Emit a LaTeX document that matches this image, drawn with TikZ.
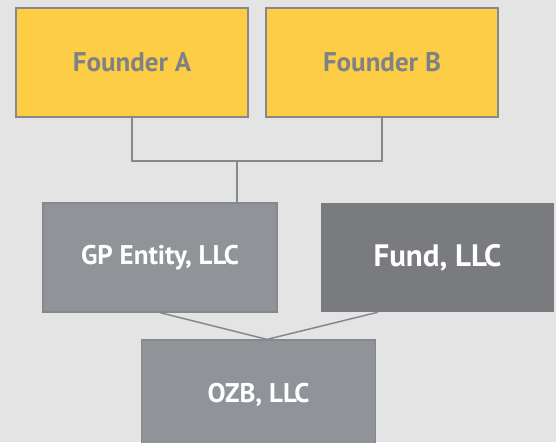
\documentclass[tikz,border=0pt]{standalone}
\usepackage{fontspec}
\setmainfont{PT Sans}
\usepackage{tikz}
\usetikzlibrary{positioning,calc}
\definecolor{bgcol}{RGB}{228,228,228}
\definecolor{yellowfill}{RGB}{253,205,69}
\definecolor{edgegrey}{RGB}{133,136,140}
\definecolor{textgrey}{RGB}{126,129,134}
\definecolor{midgrey}{RGB}{144,147,151}
\definecolor{darkgrey}{RGB}{121,123,127}

\begin{document}
\begin{tikzpicture}[
  x=1pt,y=-1pt,
  founder/.style={rectangle,draw=edgegrey,fill=yellowfill,line width=1.3pt,minimum width=232pt,minimum height=109pt,font=\fontsize{27}{32}\selectfont\bfseries,text=textgrey},
  entity/.style={rectangle,draw=edgegrey,fill=midgrey,line width=1.3pt,minimum width=234pt,minimum height=109pt,font=\fontsize{27}{32}\selectfont\bfseries,text=white},
  fundbox/.style={rectangle,fill=darkgrey,minimum width=233pt,minimum height=109pt,font=\fontsize{31}{36}\selectfont\bfseries,text=white},
  link/.style={draw=edgegrey,line width=1.5pt}
]
  % --- Background ---
  \fill[bgcol] (0,0) rectangle (556,442);
  \clip (0,0) rectangle (556,442);

  % --- Founders ---
  \node[founder] (founderA) at (132,62.5) {Founder A};
  \node[founder] (founderB) at (382,62.5) {Founder B};

  % --- Entities ---
  \node[entity]  (gp)   at (160,257.5)   {GP Entity, LLC};
  \node[fundbox] (fund) at (437.5,257.5) {Fund, LLC};
  \node[entity]  (ozb)  at (258.5,394.5) {OZB, LLC};

  % --- Connectors ---
  \coordinate (join) at (237,161);
  \draw[link] (founderA.south) |- (join) -| (founderB.south);
  \draw[link] (join) -- (join |- gp.north);
  \draw[link] (gp.south) -- ([xshift=8.5pt]ozb.north);
  \draw[link] ($(fund.south west)!0.245!(fund.south east)$) -- ([xshift=8.5pt]ozb.north);
\end{tikzpicture}
\end{document}
